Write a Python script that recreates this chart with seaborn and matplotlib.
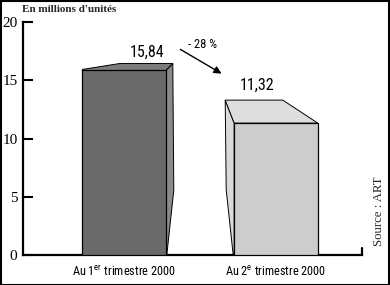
import matplotlib
matplotlib.use("Agg")
import matplotlib.pyplot as plt
import seaborn as sns
import pandas as pd
from matplotlib.patches import Polygon, Rectangle

categories = ["Au 1$^{\\mathregular{er}}$ trimestre 2000", "Au 2$^{\\mathregular{e}}$ trimestre 2000"]
values = [15.84, 11.32]
value_labels = ["15,84", "11,32"]
y_ticks = [0, 5, 10, 15, 20]
title = "En millions d'unités"
change_label = "- 28 %"
source = "Source : ART"

sns.set_theme(style="white")
plt.rcParams["font.family"] = ["Roboto Condensed", "DejaVu Sans"]
plt.rcParams["mathtext.default"] = "regular"

W, H = 390, 285
fig = plt.figure(figsize=(W / 100, H / 100), dpi=100)
ax_l, ax_r, ax_t, ax_b = 23, 362, 22, 255
ax = fig.add_axes([ax_l / W, (H - ax_b) / H, (ax_r - ax_l) / W, (ax_b - ax_t) / H])

df = pd.DataFrame({"cat": categories, "val": values})
front_cols = ["#6a6a6a", "#cdcdcd"]
sns.barplot(data=df, x="cat", y="val", hue="cat", palette=front_cols, legend=False,
            width=0.55, edgecolor="black", linewidth=0.9, ax=ax, zorder=3)

# pixel -> data scale
px_x = 152.0
px_y = (ax_b - ax_t) / 20.0


def pt(c, v, dx, dy):
    return (c + dx / px_x, v + dy / px_y)


# bar 1 pseudo-3D faces (right side + top)
c, v = 0, values[0]
hw = 0.275 * px_x
side1 = [pt(c, v, hw, 0), pt(c, v, hw + 7, 7), pt(c, 0, hw + 8, 65), pt(c, 0, hw + 1, 0), pt(c, 0, hw, 0)]
ax.add_patch(Polygon(side1, closed=True, facecolor="#8a8a8a", edgecolor="black", lw=0.7, zorder=2))
top1 = [pt(c, v, -hw, 0), pt(c, v, hw, 0), pt(c, v, hw + 7, 7), pt(c, v, -4, 7), pt(c, v, -hw, 1)]
ax.add_patch(Polygon(top1, closed=True, facecolor="#7c7c7c", edgecolor="black", lw=0.7, zorder=2))

# bar 2 pseudo-3D faces (left side + top)
c, v = 1, values[1]
side2 = [pt(c, v, -hw, 0), pt(c, v, -hw - 9, 23), pt(c, 0, -hw - 8, 65), pt(c, 0, -hw - 1, 0), pt(c, 0, -hw, 0)]
ax.add_patch(Polygon(side2, closed=True, facecolor="#d9d9d9", edgecolor="black", lw=0.7, zorder=2))
top2 = [pt(c, v, -hw, 0), pt(c, v, hw, 0), pt(c, v, hw - 35, 23), pt(c, v, -hw - 9, 23)]
ax.add_patch(Polygon(top2, closed=True, facecolor="#dedede", edgecolor="black", lw=0.7, zorder=2))

# value labels
ax.text(0 + 23 / px_x, values[0] + 18 / px_y, value_labels[0], ha="center", va="center",
        fontsize=11.5, color="black")
ax.text(1 - 19 / px_x, values[1] + 38 / px_y, value_labels[1], ha="center", va="center",
        fontsize=11.5, color="black")

# change arrow
ax.annotate("", xy=((224 - 124) / px_x, (ax_b - 75) / px_y),
            xytext=((178 - 124) / px_x, (ax_b - 48) / px_y),
            arrowprops=dict(arrowstyle="-|>", color="black", lw=1.0, mutation_scale=11))
ax.text((203 - 124) / px_x, (ax_b - 45) / px_y, change_label, ha="center", va="center",
        fontsize=9, color="black")

ax.set_xlim((ax_l - 124) / px_x, (ax_r - 124) / px_x)
ax.set_ylim(0, 20)
ax.set_yticks(y_ticks)
ax.set_yticklabels([str(t) for t in y_ticks], family="Liberation Serif", fontsize=11)
ax.set_xlabel("")
ax.set_ylabel("")
ax.tick_params(axis="y", direction="in", length=7, width=1.5, pad=4, colors="black", left=True)
ax.tick_params(axis="x", length=0, pad=7, labelsize=8.8, colors="black")
for s in ["top", "right"]:
    ax.spines[s].set_visible(False)
for s in ["left", "bottom"]:
    ax.spines[s].set_linewidth(1.6)
    ax.spines[s].set_color("black")
ax.plot([1, 1], [0, 0.03], transform=ax.transAxes, color="black", lw=1.6, clip_on=False)

fig.text(22 / W, 1 - 9 / H, title, family="Liberation Serif", fontweight="bold",
         fontsize=8, ha="left", va="center")
fig.text(379 / W, 1 - 211 / H, source, family="Liberation Serif", fontsize=9.2,
         rotation=90, ha="center", va="center")
fig.add_artist(Rectangle((0.5 / W, 0.5 / H), 1 - 1.5 / W, 1 - 1.5 / H, transform=fig.transFigure,
                         fill=False, edgecolor="black", lw=1.5))

fig.savefig("out.png", dpi=100)
